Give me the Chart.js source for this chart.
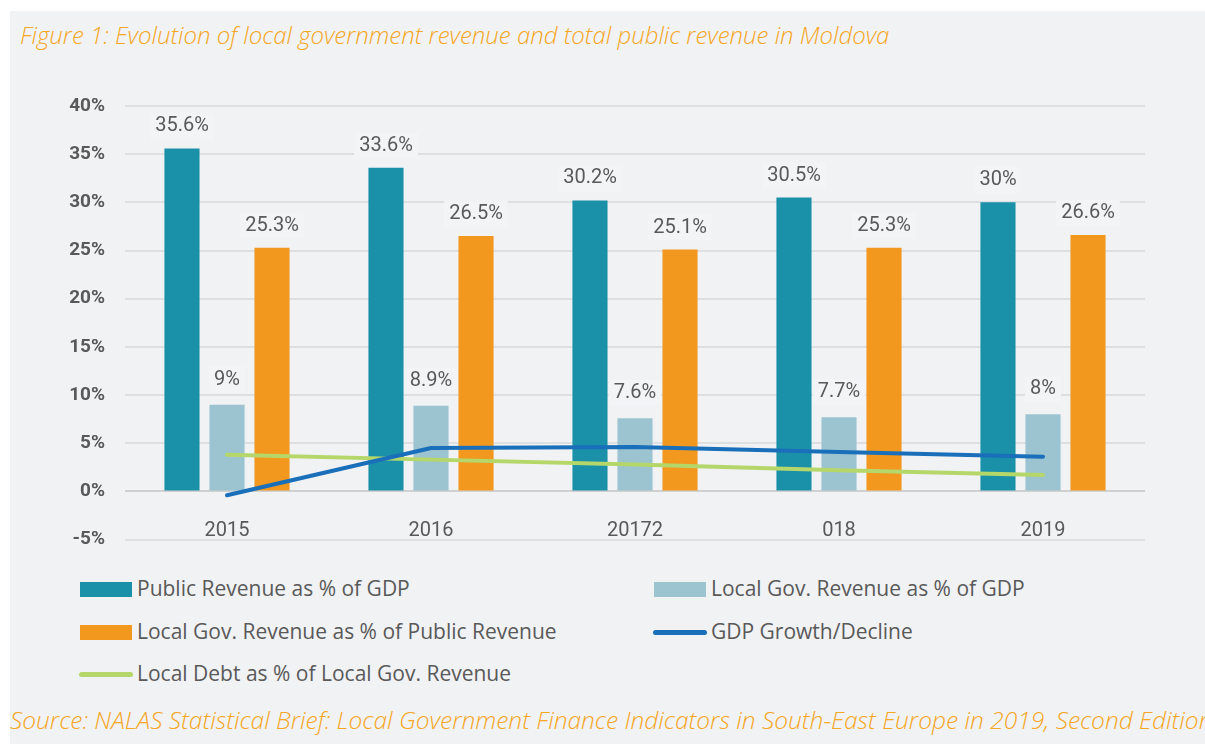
<!DOCTYPE html>
<html>
<head>
<meta charset="utf-8">
<script src="https://cdn.jsdelivr.net/npm/chart.js@4/dist/chart.umd.min.js"></script>
<style>
  html, body { margin: 0; padding: 0; background: #fff; }
  body { width: 1205px; height: 744px; position: relative; overflow: hidden; font-family: "Open Sans", sans-serif; }
  #panel { position: absolute; left: 10px; top: 11px; right: 0; bottom: 0; background: #f1f2f4; }
  #title { position: absolute; left: 20px; top: 18px; color: #f5a623; font: italic 300 24px "Open Sans", sans-serif; white-space: nowrap; }
  #source { position: absolute; left: 10px; top: 703px; color: #f5a623; font: italic 300 24.5px "Open Sans", sans-serif; white-space: nowrap; }
  #wrap { position: absolute; left: 0; top: 0; width: 1205px; height: 571px; }
  .leg { position: absolute; color: #595959; font-size: 21px; white-space: nowrap; line-height: 26px; }
  .sw { position: absolute; }
</style>
</head>
<body>
<div id="panel"></div>
<div id="title">Figure 1: Evolution of local government revenue and total public revenue in Moldova</div>
<div id="wrap"><canvas id="chart"></canvas></div>
<div id="legend"></div>
<div id="source">Source: NALAS Statistical Brief: Local Government Finance Indicators in South-East Europe in 2019, Second Edition</div>
<script>
const categories = ['2015', '2016', '20172', '018', '2019'];
const publicRevenue = [35.6, 33.6, 30.2, 30.5, 30];
const localRevenueGdp = [9, 8.9, 7.6, 7.7, 8];
const localRevenuePublic = [25.3, 26.5, 25.1, 25.3, 26.6];
const gdpGrowth = [-0.4, 4.5, 4.6, 4.1, 3.6];
const localDebt = [3.8, 3.3, 2.8, 2.2, 1.7];

const publicLabels = ['35.6%', '33.6%', '30.2%', '30.5%', '30%'];
const localGdpLabels = ['9%', '8.9%', '7.6%', '7.7%', '8%'];
const localPublicLabels = ['25.3%', '26.5%', '25.1%', '25.3%', '26.6%'];

const COLORS = {
  teal: '#1a91a8',
  light: '#9cc4d0',
  orange: '#f3981f',
  blue: '#1a6fba',
  green: '#b5d76a',
  text: '#595959'
};

const barLabels = {
  id: 'barLabels',
  afterDatasetsDraw(chart) {
    const ctx = chart.ctx;
    ctx.save();
    ctx.font = '20px Roboto';
    ctx.textAlign = 'center';
    ctx.textBaseline = 'middle';
    chart.data.datasets.forEach((ds, i) => {
      if (!ds.valueLabels) return;
      chart.getDatasetMeta(i).data.forEach((bar, j) => {
        const text = ds.valueLabels[j];
        const y = bar.y - ds.labelOffset;
        const w = ctx.measureText(text).width + 10;
        ctx.fillStyle = '#f3f4f6';
        ctx.fillRect(bar.x - w / 2, y - 13, w, 26);
        ctx.fillStyle = COLORS.text;
        ctx.fillText(text, bar.x, y);
      });
    });
    ctx.restore();
  }
};

const datasets = [
  { type: 'line', label: 'GDP Growth/Decline', data: gdpGrowth, borderColor: COLORS.blue, borderWidth: 4, borderCapStyle: 'round', borderJoinStyle: 'round', pointRadius: 0, order: 0 },
  { type: 'line', label: 'Local Debt as % of Local Gov. Revenue', data: localDebt, borderColor: COLORS.green, borderWidth: 4, borderCapStyle: 'round', pointRadius: 0, order: 0 },
  { label: 'Public Revenue as % of GDP', data: publicRevenue, backgroundColor: COLORS.teal, valueLabels: publicLabels, labelOffset: 22, order: 1 },
  { label: 'Local Gov. Revenue as % of GDP', data: localRevenueGdp, backgroundColor: COLORS.light, valueLabels: localGdpLabels, labelOffset: 25, order: 1 },
  { label: 'Local Gov. Revenue as % of Public Revenue', data: localRevenuePublic, backgroundColor: COLORS.orange, valueLabels: localPublicLabels, labelOffset: 22, order: 1 }
];

const chart = new Chart(document.getElementById('chart'), {
  type: 'bar',
  data: { labels: categories, datasets },
  plugins: [barLabels],
  options: {
    responsive: true,
    maintainAspectRatio: false,
    devicePixelRatio: 1,
    animation: false,
    layout: { padding: { left: 0, right: 60, top: 106, bottom: 12 } },
    datasets: { bar: { categoryPercentage: 0.662, barPercentage: 0.78 } },
    plugins: { legend: { display: false }, tooltip: { enabled: false } },
    scales: {
      x: {
        position: { y: 0 },
        afterFit: s => { s.height = 0; },
        grid: { display: false },
        border: { display: false },
        ticks: { color: COLORS.text, font: { family: 'Roboto', size: 20 }, padding: 20 }
      },
      y: {
        min: -5,
        max: 40,
        afterFit: s => { s.width = 125; },
        border: { display: false },
        grid: {
          drawTicks: false,
          lineWidth: 2,
          color: c => c.tick && c.tick.value === 0 ? '#d0d0d0' : '#dedfe1'
        },
        ticks: {
          stepSize: 5,
          padding: 20,
          color: COLORS.text,
          font: { family: 'Roboto', size: 19, weight: 'bold' },
          callback: v => v + '%'
        }
      }
    }
  }
});

// legend built from the chart's datasets
const legendSlots = [
  { label: 'Public Revenue as % of GDP', x: 80, y: 589 },
  { label: 'Local Gov. Revenue as % of GDP', x: 654, y: 589 },
  { label: 'Local Gov. Revenue as % of Public Revenue', x: 80, y: 632 },
  { label: 'GDP Growth/Decline', x: 654, y: 632 },
  { label: 'Local Debt as % of Local Gov. Revenue', x: 80, y: 674 }
];
const legend = document.getElementById('legend');
legendSlots.forEach(slot => {
  const ds = datasets.find(d => d.label === slot.label);
  const sw = document.createElement('div');
  sw.className = 'sw';
  if (ds.type === 'line') {
    Object.assign(sw.style, { left: (slot.x - 1) + 'px', top: (slot.y - 2) + 'px', width: '54px', height: '5px', borderRadius: '3px', background: ds.borderColor });
  } else {
    Object.assign(sw.style, { left: slot.x + 'px', top: (slot.y - 7) + 'px', width: '52px', height: '15px', background: ds.backgroundColor });
  }
  legend.appendChild(sw);
  const t = document.createElement('div');
  t.className = 'leg';
  t.textContent = ds.label;
  Object.assign(t.style, { left: (slot.x + 57) + 'px', top: (slot.y - 14) + 'px' });
  legend.appendChild(t);
});
</script>
</body>
</html>
